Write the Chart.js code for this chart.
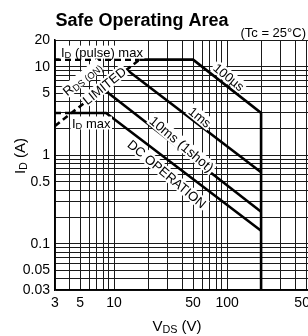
<!DOCTYPE html>
<html><head><meta charset="utf-8">
<script src="https://cdn.jsdelivr.net/npm/chart.js@4.4.1/dist/chart.umd.min.js"></script>
<style>
html,body{margin:0;padding:0;background:#fff;overflow:hidden;width:308px;height:336px}
#wrap{position:relative;width:316px;height:336px}
canvas{display:block}
</style></head>
<body><div id="wrap"><canvas id="c" width="316" height="336"></canvas></div>
<script>
// ---- data ----
const xGridValues = [3,4,5,6,7,8,9,10,20,30,40,50,60,70,80,90,100,200,300,400,500,600];
const xTickLabels = [3,5,10,50,100,500];
const yGridValues = [0.03,0.04,0.05,0.06,0.07,0.08,0.09,0.1,0.2,0.3,0.4,0.5,0.6,0.7,0.8,0.9,1,2,3,4,5,6,7,8,9,10,20];
const yTickLabels = [0.03,0.05,0.1,0.5,1,5,10,20];

// dashed limit lines
const pulseMaxDashV = [3, 16.8];
const pulseMaxDashI = [12, 12];
const rdsOnDashV = [3, 16.8];
const rdsOnDashI = [2.14, 12];
const idMaxDashV = [3, 4.2];
const idMaxDashI = [3, 3];
// solid SOA curves
const us100V = [16.8, 50, 200, 200];
const us100I = [12, 12, 3, 0.03];
const ms1V = [13.3, 200];
const ms1I = [9.0, 0.64];
const ms10V = [8.0, 200];
const ms10I = [5.6, 0.23];
const dcV = [4.2, 8.5, 200];
const dcI = [3, 3, 0.14];

const pts = (xs, ys) => xs.map((x, i) => ({x, y: ys[i]}));
const FONT = '"Liberation Sans", Arial, Helvetica, sans-serif';

function line(xs, ys, dashed) {
  return {
    data: pts(xs, ys), showLine: true, pointRadius: 0, borderColor: '#000',
    borderWidth: 2.6, borderDash: dashed ? [6, 4] : [], fill: false, tension: 0,
    borderCapStyle: 'butt', borderJoinStyle: 'miter'
  };
}

function drawRich(ctx, parts, size, cx, cy, angle, align, bg) {
  ctx.save();
  ctx.translate(cx, cy);
  ctx.rotate(angle * Math.PI / 180);
  let w = 0;
  const ms = parts.map(p => {
    const fs = p.s ? size * 0.72 : size;
    ctx.font = fs + 'px ' + FONT;
    const mw = ctx.measureText(p.t).width;
    w += mw;
    return {fs, mw};
  });
  const x0 = align === 'left' ? 0 : (align === 'right' ? -w : -w / 2);
  if (bg) { ctx.fillStyle = '#fff'; ctx.fillRect(x0 - 1.5, -size * 0.5, w + 3, size * 1.0); }
  ctx.fillStyle = '#000'; ctx.textAlign = 'left'; ctx.textBaseline = 'alphabetic';
  let x = x0;
  const base = size * 0.36;
  parts.forEach((p, i) => {
    ctx.font = ms[i].fs + 'px ' + FONT;
    ctx.fillText(p.t, x, p.s ? base + size * 0.12 : base);
    x += ms[i].mw;
  });
  ctx.restore();
}

const annot = {
  id: 'annot',
  afterDatasetsDraw(chart) {
    const ctx = chart.ctx, xs = chart.scales.x, ys = chart.scales.y;
    const P = (v, i) => [xs.getPixelForValue(v), ys.getPixelForValue(i)];
    let p;
    p = P(3.39, 14.6); drawRich(ctx, [{t:'I'},{t:'D',s:1},{t:' (pulse) max'}], 13, p[0], p[1], 0, 'left', true);
    p = P(4.24, 2.31); drawRich(ctx, [{t:'I'},{t:'D',s:1},{t:' max'}], 13, p[0], p[1], 0, 'left', true);
    p = P(5.2, 7.3); drawRich(ctx, [{t:'R'},{t:'DS (ON)',s:1}], 13, p[0], p[1], -39, 'center', true);
    p = P(8.2, 6.1); drawRich(ctx, [{t:'LIMITED'}], 13, p[0], p[1], -39, 'center', true);
    p = P(104, 7.64); drawRich(ctx, [{t:'100µs'}], 13, p[0], p[1], 39, 'center', true);
    p = P(57.6, 2.70); drawRich(ctx, [{t:'1ms'}], 13, p[0], p[1], 39, 'center', true);
    p = P(39.8, 1.34); drawRich(ctx, [{t:'10ms (1shot)'}], 13.5, p[0], p[1], 40, 'center', true);
    p = P(29.4, 0.613); drawRich(ctx, [{t:'DC OPERATION'}], 13, p[0], p[1], 40, 'center', true);
    // titles
    ctx.save();
    ctx.fillStyle = '#000'; ctx.textAlign = 'center'; ctx.textBaseline = 'alphabetic';
    ctx.font = 'bold 18px ' + FONT;
    ctx.fillText('Safe Operating Area', 142, 26);
    ctx.textAlign = 'right'; ctx.font = '13px ' + FONT;
    ctx.fillText('(Tc = 25°C)', 306, 37);
    ctx.restore();
    drawRich(ctx, [{t:'V'},{t:'DS',s:1},{t:' (V)'}], 15, 177, 326, 0, 'center', false);
    drawRich(ctx, [{t:'I'},{t:'D',s:1},{t:' (A)'}], 15, 20, 156, -90, 'center', false);
  }
};

new Chart(document.getElementById('c'), {
  type: 'scatter',
  data: { datasets: [
    line(pulseMaxDashV, pulseMaxDashI, true),
    line(rdsOnDashV, rdsOnDashI, true),
    line(idMaxDashV, idMaxDashI, true),
    line(us100V, us100I, false),
    line(ms1V, ms1I, false),
    line(ms10V, ms10I, false),
    line(dcV, dcI, false)
  ]},
  options: {
    responsive: false, animation: false, devicePixelRatio: 1,
    layout: { padding: { top: 40, right: 1, left: 0, bottom: 0 } },
    plugins: { legend: { display: false }, tooltip: { enabled: false }, title: { display: false } },
    scales: {
      x: {
        type: 'logarithmic', min: 3, max: 600,
        afterBuildTicks: s => { s.ticks = xGridValues.map(v => ({value: v})); },
        afterFit: s => { s.height = 46; s.paddingLeft = 0; s.paddingRight = 0; s.paddingTop = 0; s.paddingBottom = 0; },
        grid: { color: '#1a1a1a', lineWidth: 1, drawTicks: false },
        border: { display: true, color: '#000', width: 1.5 },
        ticks: {
          autoSkip: false, maxRotation: 0, minRotation: 0, padding: 5, color: '#000',
          font: { family: FONT, size: 14 },
          callback: (v) => xTickLabels.includes(v) ? String(v) : ''
        }
      },
      y: {
        type: 'logarithmic', min: 0.03, max: 20,
        afterBuildTicks: s => { s.ticks = yGridValues.map(v => ({value: v})); },
        afterFit: s => { s.width = 55; s.paddingLeft = 0; s.paddingRight = 0; s.paddingTop = 0; s.paddingBottom = 0; },
        grid: { color: '#1a1a1a', lineWidth: 1, drawTicks: false },
        border: { display: true, color: '#000', width: 1.5 },
        ticks: {
          autoSkip: false, padding: 5, color: '#000',
          font: { family: FONT, size: 14 },
          callback: (v) => yTickLabels.includes(v) ? String(v) : ''
        }
      }
    }
  },
  plugins: [annot]
});
</script>
</body></html>
